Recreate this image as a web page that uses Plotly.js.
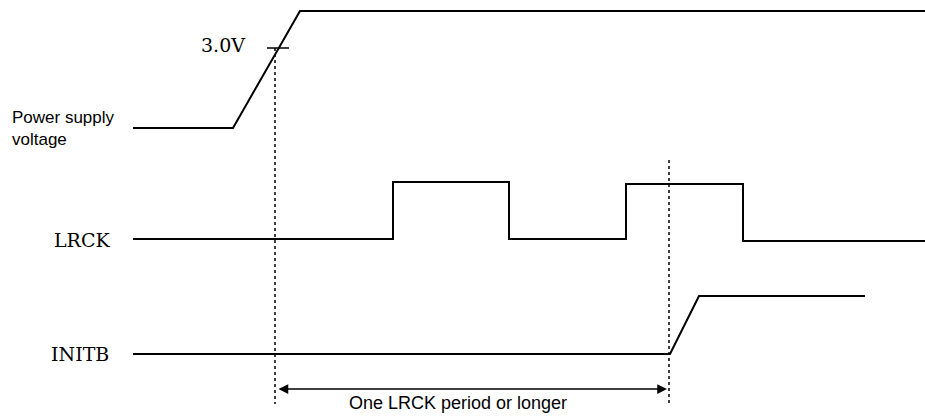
<!DOCTYPE html>
<html>
<head>
<meta charset="utf-8">
<script src="https://cdn.plot.ly/plotly-3.0.1.min.js"></script>
<style>html,body{margin:0;padding:0;background:#fff;}#chart{width:925px;height:416px;}</style>
</head>
<body>
<div id="chart"></div>
<script>
// Waveform data (time in arbitrary units, level in diagram units, y grows downward)
const powerT = [133, 233, 300, 925];
const powerV = [128, 128, 11, 11];
const lrckT = [133, 393, 393, 509, 509, 626, 626, 743, 743, 925];
const lrckV = [239, 239, 182, 182, 239, 239, 184, 184, 241, 241];
const initbT = [133, 670, 699, 865];
const initbV = [354, 354, 296, 296];
const thresholdT = [267, 289];
const thresholdV = [48, 48];
const markerT = [275, 669];
const markerTop = [48, 160];
const markerBottom = 404;
const spanStart = 277, spanEnd = 667, spanLevel = 389;
const signalNames = ["Power supply<br>voltage", "LRCK", "INITB"];
const thresholdLabel = "3.0V";
const spanLabel = "One LRCK period or longer";

const sig = {color: '#000', width: 2};
const traces = [
  {x: powerT, y: powerV, mode: 'lines', line: sig, hoverinfo: 'skip'},
  {x: lrckT, y: lrckV, mode: 'lines', line: sig, hoverinfo: 'skip'},
  {x: initbT, y: initbV, mode: 'lines', line: sig, hoverinfo: 'skip'},
  {x: thresholdT, y: thresholdV, mode: 'lines', line: {color: '#000', width: 1.5}, hoverinfo: 'skip'}
];
markerT.forEach((t, i) => {
  traces.push({x: [t, t], y: [markerTop[i], markerBottom], mode: 'lines',
    line: {color: '#000', width: 1.5, dash: 'dot'}, hoverinfo: 'skip'});
});

const serif = {family: 'DejaVu Serif, Liberation Serif, serif', size: 19, color: '#000'};
const sans = {family: 'Liberation Sans, Arial, sans-serif', size: 17, color: '#000'};

const annotations = [
  {x: 10, y: 128, xref: 'x', yref: 'y', text: signalNames[0], showarrow: false,
   xanchor: 'left', yanchor: 'middle', align: 'left', font: sans},
  {x: 52, y: 240, xref: 'x', yref: 'y', text: signalNames[1], showarrow: false,
   xanchor: 'left', yanchor: 'middle', font: serif},
  {x: 49, y: 354, xref: 'x', yref: 'y', text: signalNames[2], showarrow: false,
   xanchor: 'left', yanchor: 'middle', font: serif},
  {x: 199, y: 45, xref: 'x', yref: 'y', text: thresholdLabel, showarrow: false,
   xanchor: 'left', yanchor: 'middle', font: serif},
  {x: 458, y: 403, xref: 'x', yref: 'y', text: spanLabel, showarrow: false,
   xanchor: 'center', yanchor: 'middle', font: {family: 'Liberation Sans, Arial, sans-serif', size: 18, color: '#000'}},
  {x: spanEnd, y: spanLevel, ax: spanStart, ay: spanLevel, xref: 'x', yref: 'y', axref: 'x', ayref: 'y',
   text: '', showarrow: true, arrowhead: 2, arrowside: 'end+start', arrowsize: 1.3, arrowwidth: 1.5, arrowcolor: '#000'}
];

const layout = {
  width: 925, height: 416,
  margin: {l: 0, r: 0, t: 0, b: 0},
  paper_bgcolor: '#fff', plot_bgcolor: '#fff',
  showlegend: false,
  xaxis: {range: [0, 925], visible: false, fixedrange: true},
  yaxis: {range: [416, 0], visible: false, fixedrange: true},
  annotations: annotations
};
Plotly.newPlot('chart', traces, layout, {staticPlot: true});
</script>
</body>
</html>
